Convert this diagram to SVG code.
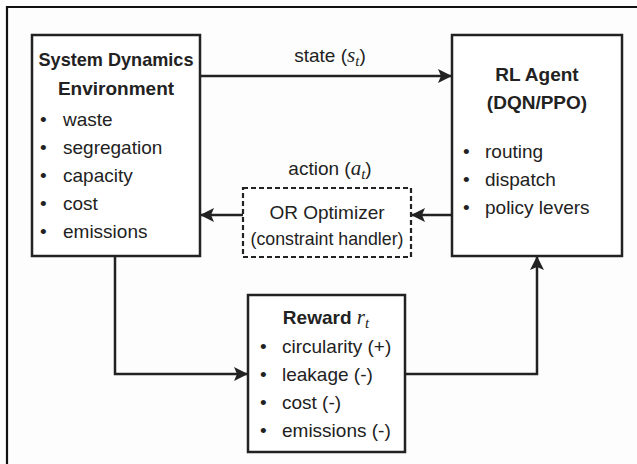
<svg xmlns="http://www.w3.org/2000/svg" width="637" height="464" viewBox="0 0 637 464">
<style>
.box{fill:#fff;stroke:#222;stroke-width:2.5}
.dash{fill:#fff;stroke:#222;stroke-width:2.2;stroke-dasharray:5 3}
.t{font-family:"Liberation Sans",Arial,sans-serif;font-size:19px;fill:#222}
.b{font-weight:bold}
.m{font-family:"Liberation Serif","Times New Roman",serif;font-style:italic;font-size:21px}
.s{font-family:"Liberation Serif","Times New Roman",serif;font-style:italic;font-size:15px}
.c{text-anchor:middle}
.line{fill:none;stroke:#222;stroke-width:2.5}
</style>
<defs>
<marker id="ah" viewBox="0 0 14 14" refX="13" refY="7" markerWidth="14" markerHeight="14" markerUnits="userSpaceOnUse" orient="auto">
<path d="M0,0 L14,7 L0,14 L3,7 Z" fill="#222"/>
</marker>
</defs>
<rect x="0" y="0" width="637" height="464" fill="#fdfdfd"/>
<path d="M7,464 V7 H637" fill="none" stroke="#111" stroke-width="2.2"/>

<g id="connectors">
<path class="line" d="M200,76 H451" marker-end="url(#ah)"/>
<path class="line" d="M452,215 H412" marker-end="url(#ah)"/>
<path class="line" d="M243,215 H201" marker-end="url(#ah)"/>
<path class="line" d="M115,256 V374 H247" marker-end="url(#ah)"/>
<path class="line" d="M405,374 H537 V257" marker-end="url(#ah)"/>
<text class="t c" x="330" y="62">state (<tspan class="m">s</tspan><tspan class="s" dy="4">t</tspan><tspan dy="-4">)</tspan></text>
<text class="t c" x="330" y="175">action (<tspan class="m">a</tspan><tspan class="s" dy="4">t</tspan><tspan dy="-4">)</tspan></text>
</g>

<g id="sd-env">
<rect class="box" x="32" y="35" width="168" height="221"/>
<text class="t b c" x="116" y="66" textLength="155" lengthAdjust="spacingAndGlyphs">System Dynamics</text>
<text class="t b c" x="116" y="95">Environment</text>
<g class="t">
<text x="40" y="126">•</text><text x="63" y="126">waste</text>
<text x="40" y="154">•</text><text x="63" y="154">segregation</text>
<text x="40" y="182">•</text><text x="63" y="182">capacity</text>
<text x="40" y="210">•</text><text x="63" y="210">cost</text>
<text x="40" y="238">•</text><text x="63" y="238">emissions</text>
</g>
</g>

<g id="rl-agent">
<rect class="box" x="452" y="35" width="170" height="221"/>
<text class="t b c" x="537" y="81">RL Agent</text>
<text class="t b c" x="537" y="109">(DQN/PPO)</text>
<g class="t">
<text x="463" y="158">•</text><text x="485" y="158">routing</text>
<text x="463" y="186">•</text><text x="485" y="186">dispatch</text>
<text x="463" y="214">•</text><text x="485" y="214">policy levers</text>
</g>
</g>

<g id="or-optimizer">
<rect class="dash" x="243" y="188" width="168" height="69"/>
<text class="t c" x="327" y="219">OR Optimizer</text>
<text class="t c" x="327" y="245" textLength="153" lengthAdjust="spacingAndGlyphs">(constraint handler)</text>
</g>

<g id="reward">
<rect class="box" x="248" y="295" width="157" height="157"/>
<text class="t c" x="326" y="324"><tspan class="b">Reward </tspan><tspan class="m">r</tspan><tspan class="s" dy="4">t</tspan></text>
<g class="t">
<text x="260" y="353">•</text><text x="282" y="353">circularity (+)</text>
<text x="260" y="381">•</text><text x="282" y="381">leakage (-)</text>
<text x="260" y="409">•</text><text x="282" y="409">cost (-)</text>
<text x="260" y="437">•</text><text x="282" y="437">emissions (-)</text>
</g>
</g>
</svg>
